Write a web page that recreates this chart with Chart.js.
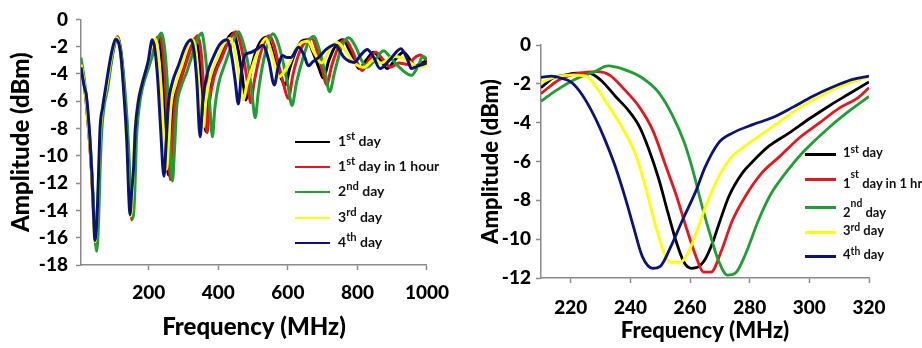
<!DOCTYPE html>
<html><head><meta charset="utf-8">
<script src="https://cdn.jsdelivr.net/npm/chart.js@4/dist/chart.umd.min.js"></script>
<style>
html,body{margin:0;padding:0;background:#fff;width:922px;height:348px;overflow:hidden;}
.wrap{position:absolute;top:0;height:348px;}
.leg{position:absolute;font-family:Lato,"Liberation Sans",sans-serif;font-weight:bold;color:#111;white-space:nowrap;}
.leg .ln{position:absolute;}
.leg .tx{position:absolute;}
.leg sup{font-size:0.8em;position:relative;top:-0.45em;vertical-align:baseline;}
</style></head><body>
<div class="wrap" style="left:0;width:460px"><canvas id="c1" width="460" height="348"></canvas></div>
<div class="wrap" style="left:460px;width:462px"><canvas id="c2" width="462" height="348"></canvas></div>
<div id="legL"></div><div id="legR"></div>
<script>
// ---------- DATA ----------
const seriesColors = ['#000000', '#e8161c', '#1f9e32', '#ffff00', '#0a1478'];
const legendLeft = [['1','st',' day'],['1','st',' day in 1 hour'],['2','nd',' day'],['3','rd',' day'],['4','th',' day']];
const legendRight = [['1','st',' day'],['1','st',' day in 1 hr'],['2','nd',' day'],['3','rd',' day'],['4','th',' day']];

const xTicksLeft = [200, 400, 600, 800, 1000];
const xTicksRight = [220, 240, 260, 280, 300, 320];

// Left panel: 1st day
const L1_f = [5,15,25,35,41,47,53,57,62,69,79,89,99,109,117,127,136,143,150,156,161,169,179,198,212,220,226,234,242,249,256,262,269,282,300,320,333,343,352,364,371,384,405,425,443,455,467,479,490,505,522,539,552,567,582,593,605,625,640,655,672,690,702,718,740,758,778,793,805,825,847,868,885,910,932,950,965,985,1000];
const L1_a = [-3.4,-4.9,-7.5,-11.0,-14.0,-16.3,-14.0,-11.0,-8.0,-6.3,-5.0,-3.4,-2.0,-1.3,-2.0,-4.5,-8.0,-11.5,-14.5,-12.0,-8.5,-6.3,-5.0,-3.4,-2.1,-1.5,-1.3,-2.2,-4.8,-8.5,-11.4,-9.0,-6.3,-4.8,-3.4,-1.9,-1.4,-2.4,-5.0,-8.2,-6.0,-4.2,-2.8,-1.5,-1.0,-2.0,-3.8,-5.9,-4.2,-2.6,-1.6,-1.3,-2.0,-3.4,-4.4,-4.8,-3.6,-2.2,-1.6,-1.5,-2.4,-3.6,-4.3,-3.0,-1.8,-1.5,-2.3,-3.1,-3.6,-3.0,-2.4,-3.0,-3.6,-2.9,-2.4,-2.9,-3.4,-3.2,-3.0];
// Left panel: 1st day in 1 hour
const L2_f = [5,15,25,35,42,48,54,58,63,70,80,90,100,110,118,128,137,144,151,157,162,170,180,200,215,225,232,240,248,255,262,268,275,288,305,325,340,350,358,368,375,388,410,432,451,462,475,485,493,503,520,535,547,560,575,590,601,615,635,652,669,685,700,711,727,748,765,785,800,813,835,852,875,895,920,945,965,980,1000];
const L2_a = [-3.3,-4.8,-7.5,-11.0,-14.5,-16.6,-14.0,-11.0,-8.0,-6.3,-5.0,-3.4,-2.0,-1.25,-2.0,-4.5,-8.0,-11.5,-14.7,-12.0,-8.5,-6.3,-5.0,-3.4,-2.1,-1.4,-1.2,-2.2,-4.8,-8.5,-11.75,-9.0,-6.3,-4.8,-3.4,-1.9,-1.2,-2.3,-5.0,-8.3,-6.0,-4.2,-2.8,-1.5,-0.9,-1.6,-3.2,-4.8,-6.1,-4.6,-2.6,-1.5,-1.2,-1.9,-3.5,-5.0,-5.8,-4.0,-2.3,-1.6,-1.4,-2.4,-3.8,-4.8,-3.3,-1.9,-1.5,-2.3,-3.2,-3.75,-2.9,-2.4,-3.0,-3.5,-3.2,-3.3,-2.8,-2.6,-3.0];
// Left panel: 2nd day
const L3_f = [5,15,25,35,43,50,56,60,65,72,82,92,102,110,118,128,138,146,154,160,164,172,182,200,215,228,237,245,253,260,268,274,280,292,310,330,345,352,360,368,376,383,390,400,420,440,458,470,485,497,506,515,530,545,557,570,585,600,612,625,645,660,674,690,708,720,735,755,775,795,812,828,850,875,895,920,955,975,988,1000];
const L3_a = [-2.8,-4.5,-7.0,-10.5,-14.5,-17.0,-14.5,-11.0,-8.0,-6.3,-5.0,-3.2,-1.8,-1.3,-2.0,-4.2,-7.5,-11.5,-14.6,-12.5,-9.0,-6.5,-5.0,-3.5,-2.3,-1.3,-1.0,-2.0,-4.5,-8.5,-11.85,-9.5,-6.5,-5.0,-3.8,-2.2,-1.2,-1.0,-2.0,-4.0,-6.5,-8.6,-6.5,-4.8,-3.2,-1.8,-0.9,-1.6,-3.2,-5.5,-7.2,-5.3,-3.0,-1.6,-1.05,-1.6,-3.0,-4.8,-6.3,-4.6,-2.7,-1.6,-1.25,-2.2,-4.0,-5.3,-3.8,-2.0,-1.35,-2.0,-3.0,-3.5,-3.0,-2.3,-2.8,-3.5,-4.1,-3.4,-2.7,-2.9];
// Left panel: 3rd day
const L4_f = [5,15,25,35,40,46,52,56,61,68,78,88,98,108,116,126,134,141,148,154,159,167,177,195,207,213,218,226,235,243,251,257,264,277,295,313,326,336,345,357,364,377,398,418,434,446,459,472,482,500,520,537,550,563,575,590,605,622,640,657,675,697,720,742,765,791,820,845,868,905,935,960,979,1000];
const L4_a = [-3.3,-4.8,-7.4,-11.0,-14.0,-16.3,-14.0,-11.0,-8.0,-6.3,-5.0,-3.4,-2.0,-1.35,-2.0,-4.5,-8.0,-11.5,-14.4,-12.0,-8.5,-6.3,-5.0,-3.4,-2.1,-1.6,-1.4,-2.2,-4.8,-8.5,-11.0,-9.0,-6.3,-4.8,-3.4,-2.0,-1.45,-2.4,-5.0,-7.9,-6.0,-4.2,-2.8,-1.7,-1.4,-2.2,-4.0,-5.9,-4.8,-3.3,-2.0,-1.4,-2.2,-3.4,-4.2,-3.8,-3.2,-2.2,-1.7,-1.6,-2.4,-3.2,-2.2,-1.7,-2.3,-3.2,-3.5,-3.0,-3.2,-2.7,-2.9,-3.3,-3.5,-3.3];
// Left panel: 4th day
const L5_f = [5,15,20,29,36,41.6,45,51,55,60,67,76,86,95,104.5,118.6,128,137.4,142,146,151,156,161,170,180,198,210,218,226,234,243.5,250,256,268,285,305,321,330,338,347.7,355,368,385,405,425,437,448,457.6,466,477,490,510,528,545,561,572,584,597,608,631,646,659,672,688,710,735,762,791,810,828,845,865,895,925,945,955,975,1000];
const L5_a = [-3.5,-5.0,-5.5,-8.1,-11.2,-14.6,-16.2,-14.6,-11.7,-7.9,-6.5,-5.0,-3.4,-2.2,-1.45,-2.43,-5.3,-9.3,-12.7,-14.3,-12.5,-11.0,-8.1,-6.0,-4.8,-3.1,-1.5,-2.3,-4.5,-8.0,-11.5,-9.0,-6.3,-4.6,-3.4,-2.0,-1.5,-2.3,-4.5,-8.6,-6.0,-4.0,-2.8,-1.8,-1.5,-2.5,-4.4,-6.2,-4.0,-2.6,-2.45,-2.2,-1.9,-3.0,-4.8,-3.5,-2.65,-2.8,-2.8,-2.05,-2.6,-3.4,-3.1,-2.8,-2.2,-1.85,-2.8,-3.15,-2.6,-2.2,-2.7,-3.6,-2.9,-2.15,-3.0,-3.6,-3.4,-3.2];

// Right panel: 1st day
const R1_f = [210,214,218,222,226,230,235,239.5,243,246,249.5,252.5,255.5,258,260.5,262.5,265,267.5,269.5,273,277.5,281,286.5,293,300,307,313.5,320];
const R1_a = [-2.2,-1.7,-1.55,-1.45,-1.45,-1.8,-2.65,-3.4,-4.2,-5.3,-6.9,-8.6,-10.2,-11.2,-11.5,-11.45,-11.05,-10.2,-9.3,-7.8,-6.6,-6.0,-5.2,-4.55,-3.8,-3.1,-2.5,-1.9];
// Right panel: 1st day in 1 hr
const R2_f = [210,216,222,229,233,238,243,247.5,252,255.5,258.5,262,264.5,267,270.5,274,278.5,284,290,296.5,303.5,310,316,320];
const R2_a = [-2.5,-1.8,-1.48,-1.37,-1.55,-2.3,-3.2,-4.4,-6.3,-7.8,-9.3,-10.9,-11.7,-11.7,-10.6,-9.1,-7.8,-6.6,-5.75,-4.8,-4.0,-3.25,-2.75,-2.2];
// Right panel: 2nd day
const R3_f = [210,215,221,228,232.5,238,244,249.5,254,258,261,264,267,269.5,272.5,275.5,278.5,283,287,292.5,298,305.5,312.5,320];
const R3_a = [-2.9,-2.35,-1.8,-1.37,-1.08,-1.27,-1.7,-2.45,-3.6,-5.0,-6.5,-8.3,-9.9,-11.1,-11.85,-11.7,-10.8,-9.0,-7.7,-6.5,-5.5,-4.4,-3.5,-2.65];
// Right panel: 3rd day
const R4_f = [210,214.5,220,225,228,232.5,237,242,245,248.5,251.5,253.5,256.5,259,262,265,269.5,274,278.5,284,290,296.5,303.5,310,317,320];
const R4_a = [-1.95,-1.65,-1.55,-1.6,-2.05,-3.1,-4.2,-5.75,-7.3,-9.35,-10.8,-11.2,-11.2,-10.8,-9.7,-8.4,-6.8,-5.75,-5.2,-4.6,-3.95,-3.25,-2.65,-2.15,-1.77,-1.62];
// Right panel: 4th day
const R5_f = [210,213.5,217,220,223.5,228,231.5,235,238.5,241,244,247.5,250,253.5,257.5,262,265,269.5,274,281,287.5,294.5,301,308,314.5,320];
const R5_a = [-1.67,-1.6,-1.72,-1.9,-2.5,-3.7,-4.9,-6.3,-8.0,-9.35,-10.9,-11.5,-11.4,-10.4,-9.0,-7.5,-6.3,-5.05,-4.55,-4.1,-3.75,-3.2,-2.65,-2.15,-1.77,-1.6];

// ---------- BUILD ----------
const pts = (f, a) => f.map((x, i) => ({x: x, y: a[i]}));
const leftSeries = [[L1_f,L1_a],[L2_f,L2_a],[L3_f,L3_a],[L4_f,L4_a],[L5_f,L5_a]];
const rightSeries = [[R1_f,R1_a],[R2_f,R2_a],[R3_f,R3_a],[R4_f,R4_a],[R5_f,R5_a]];
const FONT = 'Lato, "Liberation Sans", sans-serif';

function makeDatasets(series, legend, lw) {
  return series.map((s, i) => ({
    label: legend[i].join(''),
    data: pts(s[0], s[1]),
    borderColor: seriesColors[i],
    backgroundColor: seriesColors[i],
    borderWidth: lw,
    pointRadius: 0,
    cubicInterpolationMode: 'monotone',
    fill: false,
    order: series.length - i
  }));
}

function makeChart(id, cfg) {
  return new Chart(document.getElementById(id), {
    type: 'line',
    data: {datasets: makeDatasets(cfg.series, cfg.legend, cfg.lw)},
    options: {
      responsive: false, animation: false, devicePixelRatio: 1,
      layout: {padding: {left: 0, right: cfg.padRight, top: cfg.padTop, bottom: 0}},
      plugins: {legend: {display: false}, tooltip: {enabled: false}},
      scales: {
        x: {
          type: 'linear', min: cfg.xmin, max: cfg.xmax,
          afterBuildTicks: sc => { sc.ticks = cfg.xticks.map(v => ({value: v})); },
          afterFit: sc => { sc.height = cfg.xh; },
          grid: {display: true, drawOnChartArea: false, drawTicks: true, tickLength: 5, tickColor: '#8a8a8a', tickWidth: 1.5},
          border: {display: true, color: '#8a8a8a', width: 1.5},
          ticks: {color: '#000', font: {family: FONT, size: cfg.tickSize, weight: '900'}, padding: cfg.xTickPad, maxRotation: 0, autoSkip: false,
                  callback: v => String(v)},
          title: {display: true, text: 'Frequency (MHz)', color: '#000', font: {family: FONT, size: cfg.titleSize, weight: '900'}, padding: {top: 0, bottom: cfg.xTitlePad}}
        },
        y: {
          type: 'linear', min: cfg.ymin, max: 0,
          afterFit: sc => { sc.width = 81; },
          grid: {display: true, drawOnChartArea: false, drawTicks: true, tickLength: 5, tickColor: '#8a8a8a', tickWidth: 1.5},
          border: {display: true, color: '#8a8a8a', width: 1.5},
          ticks: {stepSize: 2, color: '#000', font: {family: FONT, size: cfg.tickSize, weight: '900'}, padding: cfg.yTickPad,
                  callback: v => String(v)},
          title: {display: true, text: 'Amplitude (dBm)', color: '#000', font: {family: FONT, size: cfg.titleSize, weight: '900'}, padding: {top: cfg.yTitlePad, bottom: 0}}
        }
      }
    }
  });
}

makeChart('c1', {series: leftSeries, legend: legendLeft, lw: 3, xmin: 5, xmax: 1000, xticks: xTicksLeft, ymin: -18,
  padRight: 26, padTop: 13, xh: 83, tickSize: 19, titleSize: 24, xTickPad: 11, yTickPad: 8, xTitlePad: 6, yTitlePad: 7});
makeChart('c2', {series: rightSeries, legend: legendRight, lw: 2.8, xmin: 210, xmax: 320, xticks: xTicksRight, ymin: -12,
  padRight: 53, padTop: 45, xh: 70, tickSize: 19, titleSize: 22, xTickPad: 13, yTickPad: 5, xTitlePad: 4, yTitlePad: 18});

// ---------- LEGENDS (HTML, with superscripts) ----------
function buildLegend(elId, legend, cfg) {
  const el = document.getElementById(elId);
  legend.forEach((parts, i) => {
    const y = cfg.rows[i];
    const row = document.createElement('div');
    row.className = 'leg';
    row.style.left = '0px'; row.style.top = '0px';
    const ln = document.createElement('div');
    ln.className = 'ln';
    ln.style.left = cfg.lineX + 'px'; ln.style.width = cfg.lineW + 'px';
    ln.style.top = (y - cfg.lineH / 2) + 'px'; ln.style.height = cfg.lineH + 'px';
    ln.style.background = seriesColors[i];
    const tx = document.createElement('div');
    tx.className = 'tx';
    tx.style.left = cfg.textX + 'px';
    tx.style.top = (y - cfg.fontSize * 0.75 + (cfg.textShift[i] || 0)) + 'px';
    tx.style.fontSize = cfg.fontSize + 'px';
    const sup = document.createElement('sup');
    sup.textContent = parts[1];
    if (cfg.supShift && cfg.supShift[i]) sup.style.top = cfg.supShift[i] + 'em';
    tx.appendChild(document.createTextNode(parts[0]));
    tx.appendChild(sup);
    tx.appendChild(document.createTextNode(parts[2]));
    row.appendChild(ln); row.appendChild(tx);
    el.appendChild(row);
  });
}
buildLegend('legL', legendLeft, {rows: [142, 167, 192, 218, 243], lineX: 295, lineW: 35, lineH: 2, textX: 338, fontSize: 14, textShift: []});
buildLegend('legR', legendRight, {rows: [154, 179, 207, 232, 256], lineX: 805, lineW: 31, lineH: 3, textX: 843, fontSize: 13, textShift: [0, 6, 7, 0, 0], supShift: [0, -0.95, -0.95, 0, 0]});
</script>
</body></html>
